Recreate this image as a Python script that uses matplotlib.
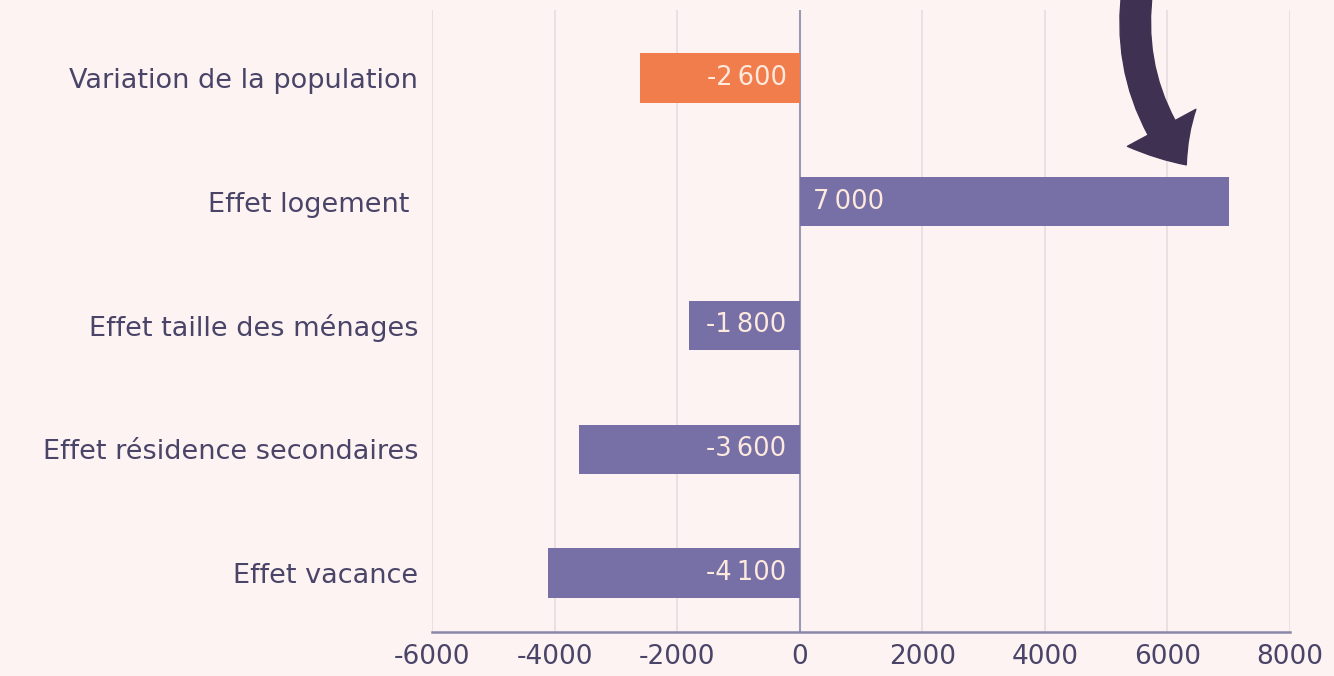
import matplotlib
matplotlib.use("Agg")
import matplotlib.pyplot as plt
from matplotlib.patches import FancyArrowPatch

categories = ["Variation de la population", "Effet logement ", "Effet taille des ménages",
              "Effet résidence secondaires", "Effet vacance"]
values = [-2600, 7000, -1800, -3600, -4100]
value_labels = ["-2\u2009600", "7\u2009000", "-1\u2009800", "-3\u2009600", "-4\u2009100"]
xticks = [-6000, -4000, -2000, 0, 2000, 4000, 6000, 8000]

BG = "#fdf3f2"
ORANGE = "#f17d4d"
PURPLE = "#7670a6"
TEXT = "#4a4568"
DARK = "#3e3152"

plt.rcParams['font.family'] = ['DejaVu Sans']

fig = plt.figure(figsize=(13.34, 6.76), dpi=100, facecolor=BG)
ax = fig.add_axes([432/1334, 1-632/676, (1290-432)/1334, (632-10)/676])
ax.set_facecolor(BG)

colors = [ORANGE] + [PURPLE]*4
ypos = list(range(len(categories)))
ax.barh(ypos, values, height=0.40, color=colors, zorder=3)

for y, v, lab in zip(ypos, values, value_labels):
    if v < 0:
        ax.text(-215, y, lab, ha="right", va="center", color="#fde9dd",
                fontsize=18.5, zorder=4)
    else:
        ax.text(215, y, lab, ha="left", va="center", color="#fde9dd",
                fontsize=18.5, zorder=4)

ax.set_xlim(-6000, 8000)
ax.set_ylim(4.476, -0.548)
ax.set_xticks(xticks)
ax.set_xticklabels([str(t) for t in xticks], fontsize=19, color=TEXT)
ax.set_yticks(ypos)
ax.set_yticklabels(categories, fontsize=19.5, color=TEXT)
ax.tick_params(axis="both", length=0)
ax.tick_params(axis="x", pad=9)
ax.tick_params(axis="y", pad=10)

ax.grid(axis="x", color="#e6dde0", linewidth=1.2, zorder=0)
ax.axvline(0, color="#9a98b6", linewidth=1.5, zorder=2)
for s in ["top", "right", "left"]:
    ax.spines[s].set_visible(False)
ax.spines["bottom"].set_color("#8a88a8")
ax.spines["bottom"].set_linewidth(1.8)

arrow = FancyArrowPatch((1138/1334, 1+15/676), (1188/1334, 1-167/676),
                        transform=fig.transFigure,
                        connectionstyle="arc3,rad=0.22",
                        arrowstyle="simple,head_length=32,head_width=56,tail_width=22",
                        mutation_scale=1, color=DARK, zorder=10)
fig.patches.append(arrow)

fig.savefig("out.png", dpi=100, facecolor=BG)
